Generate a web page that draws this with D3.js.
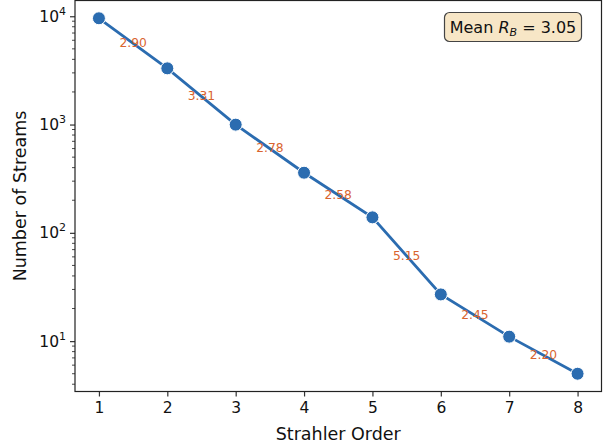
<!DOCTYPE html>
<html>
<head>
<meta charset="utf-8">
<script src="https://cdn.jsdelivr.net/npm/d3@7"></script>
<style>
  body { margin: 0; background: #fff; }
  text { font-family: "DejaVu Sans", sans-serif; }
</style>
</head>
<body>
<div id="chart"></div>
<script>
// Strahler orders and stream counts
const orders = [1, 2, 3, 4, 5, 6, 7, 8];
const counts = [9580, 3303, 998, 359, 139, 27, 11, 5];
const ratioLabels = ["2.90", "3.31", "2.78", "2.58", "5.15", "2.45", "2.20"];
const meanRb = "3.05";
const yTicks = [10, 100, 1000, 10000];
const yExps = ["1", "2", "3", "4"];

const width = 605, height = 446;
const margin = {top: 0.5, right: 3.5, bottom: 54.5, left: 75};
const innerW = width - margin.left - margin.right;
const innerH = height - margin.top - margin.bottom;

const svg = d3.select("#chart").append("svg")
    .attr("width", width)
    .attr("height", height);

const g = svg.append("g")
    .attr("transform", `translate(${margin.left},${margin.top})`);

// matplotlib style 5% margins
const lo = Math.log10(d3.min(counts)), hi = Math.log10(d3.max(counts));
const pad = (hi - lo) * 0.05;
const x = d3.scaleLinear().domain([1 - 0.35, 8 + 0.35]).range([0, innerW]);
const y = d3.scaleLog().domain([Math.pow(10, lo - pad), Math.pow(10, hi + pad)]).range([innerH, 0]);

// x axis
const xAxis = g.append("g")
    .attr("transform", `translate(0,${innerH})`)
    .call(d3.axisBottom(x).tickValues(orders).tickSize(5).tickPadding(5).tickFormat(d3.format("d")));
xAxis.select(".domain").remove();
xAxis.selectAll("line").attr("stroke", "#333").attr("stroke-width", 1.2);
xAxis.selectAll("text").style("font-size", "15.5px").attr("fill", "#111");

// y axis major ticks
const yAxis = g.append("g")
    .call(d3.axisLeft(y).tickValues(yTicks).tickSize(5).tickPadding(5).tickFormat(""));
yAxis.select(".domain").remove();
yAxis.selectAll("line").attr("stroke", "#333").attr("stroke-width", 1.2);

// minor ticks
const minor = [];
for (let e = 0; e <= 4; e++) {
  for (let m = 2; m <= 9; m++) {
    const v = m * Math.pow(10, e);
    if (v >= y.domain()[0] && v <= y.domain()[1]) minor.push(v);
  }
}
g.append("g").selectAll("line").data(minor).join("line")
    .attr("x1", -3).attr("x2", 0)
    .attr("y1", d => y(d)).attr("y2", d => y(d))
    .attr("stroke", "#333").attr("stroke-width", 0.9);

// y tick labels as 10^n
const yl = g.append("g").selectAll("text").data(yTicks).join("text")
    .attr("x", -9)
    .attr("y", d => y(d) + 5.5)
    .attr("text-anchor", "end")
    .style("font-size", "15.5px")
    .attr("fill", "#111");
yl.append("tspan").text("10");
yl.append("tspan").attr("dy", -7).style("font-size", "11px").text((d, i) => yExps[i]);

// frame
g.append("rect")
    .attr("width", innerW).attr("height", innerH)
    .attr("fill", "none").attr("stroke", "#222").attr("stroke-width", 1.2);

// line + points
const line = d3.line().x((d, i) => x(orders[i])).y(d => y(d));
g.append("path")
    .datum(counts)
    .attr("d", line)
    .attr("fill", "none")
    .attr("stroke", "#2b6cb0")
    .attr("stroke-width", 2.8);

g.selectAll("circle.pt").data(counts).join("circle")
    .attr("class", "pt")
    .attr("cx", (d, i) => x(orders[i]))
    .attr("cy", d => y(d))
    .attr("r", 6.5)
    .attr("fill", "#2b6cb0")
    .attr("stroke", "#fff")
    .attr("stroke-width", 1);

// bifurcation ratio labels at segment midpoints
g.selectAll("text.ratio").data(ratioLabels).join("text")
    .attr("class", "ratio")
    .attr("x", (d, i) => x((orders[i] + orders[i + 1]) / 2))
    .attr("y", (d, i) => y(Math.sqrt(counts[i] * counts[i + 1])))
    .attr("dy", "0.3em")
    .attr("text-anchor", "middle")
    .style("font-size", "12.3px")
    .attr("fill", "#d9642f")
    .text(d => d);

// mean box
const box = g.append("g").attr("transform", "translate(369.5,12)");
box.append("rect")
    .attr("width", 137).attr("height", 29)
    .attr("rx", 5)
    .attr("fill", "#f7e6c6")
    .attr("stroke", "#444").attr("stroke-width", 1.2);
const mt = box.append("text")
    .attr("x", 68.5).attr("y", 20.5)
    .attr("text-anchor", "middle")
    .style("font-size", "16px")
    .attr("fill", "#111");
mt.append("tspan").text("Mean ");
mt.append("tspan").attr("font-style", "italic").text("R");
mt.append("tspan").attr("font-style", "italic").style("font-size", "11px").attr("dy", 3).text("B");
mt.append("tspan").attr("dy", -3).text(" = " + meanRb);

// axis labels
svg.append("text")
    .attr("x", margin.left + innerW / 2)
    .attr("y", 440)
    .attr("text-anchor", "middle")
    .style("font-size", "17.5px")
    .attr("fill", "#111")
    .text("Strahler Order");

svg.append("text")
    .attr("transform", `translate(26,${margin.top + innerH / 2}) rotate(-90)`)
    .attr("text-anchor", "middle")
    .style("font-size", "17.5px")
    .attr("fill", "#111")
    .text("Number of Streams");
</script>
</body>
</html>
